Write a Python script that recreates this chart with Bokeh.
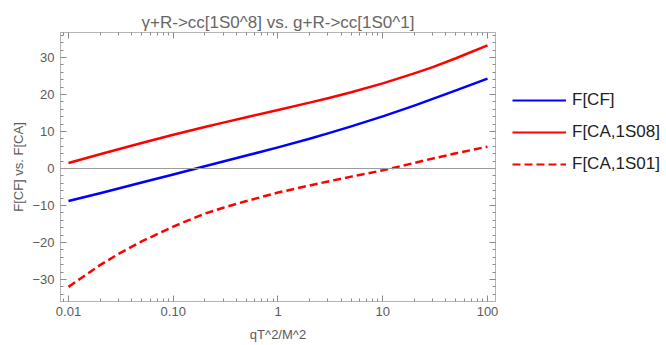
from bokeh.plotting import figure
from bokeh.layouts import row
from bokeh.models import (FixedTicker, LogAxis, LinearAxis, Span, Legend,
                          LegendItem, ColumnDataSource, Range1d)
from bokeh.embed import file_html
from bokeh.resources import INLINE

# ---- data ----
qT2 = [0.01, 0.02, 0.03, 0.05, 0.1, 0.2, 0.3, 0.5, 1, 2, 3, 5, 10, 20, 30, 50, 100]
f_cf = [-8.8, -6.7, -5.4, -3.8, -1.6, 0.6, 1.9, 3.5, 5.7, 8.05, 9.5, 11.4, 14.1, 17.0, 18.8, 21.1, 24.3]
f_ca8 = [1.5, 3.85, 5.2, 6.9, 9.1, 11.2, 12.4, 13.85, 15.8, 17.8, 19.0, 20.6, 23.0, 25.7, 27.4, 29.8, 33.3]
f_ca1 = [-32.0, -26.1, -23.1, -19.7, -15.7, -12.2, -10.6, -8.8, -6.5, -4.6, -3.5, -2.2, -0.5, 1.5, 2.7, 4.1, 5.9]

series_names = ["F[CF]", "F[CA,1S08]", "F[CA,1S01]"]
x_ticks = [0.01, 0.1, 1, 10, 100]
x_tick_labels = ["0.01", "0.10", "1", "10", "100"]
y_ticks = [-30, -20, -10, 0, 10, 20, 30]
y_tick_labels = ["\u221230", "\u221220", "\u221210", "0", "10", "20", "30"]

title_text = "\u03b3+R->cc[1S0^8] vs. g+R->cc[1S0^1]"
x_label = "qT^2/M^2"
y_label = "F[CF] vs. F[CA]"

FONT = "Liberation Sans"
FRAME = "#b4b4b4"
TICK = "#8a8a8a"
TXT = "#5a5a5a"

src = ColumnDataSource(dict(x=qT2, cf=f_cf, ca8=f_ca8, ca1=f_ca1))

p = figure(width=505, height=345, x_axis_type="log",
           x_range=Range1d(0.00839, 119.2), y_range=Range1d(-35.95, 36.76),
           output_backend="svg", toolbar_location=None,
           min_border_left=60, min_border_right=10,
           min_border_top=32, min_border_bottom=44,
           title=title_text)
p.title.align = "center"
p.title.text_font = FONT
p.title.text_font_size = "17px"
p.title.text_font_style = "normal"
p.title.text_color = "#666666"
p.title.standoff = 2
p.xgrid.visible = False
p.ygrid.visible = False
p.outline_line_color = FRAME
p.background_fill_color = "white"
p.border_fill_color = "white"

minor_x = [m * 10.0 ** e for e in range(-3, 3) for m in range(2, 10)]
xt = FixedTicker(ticks=x_ticks, minor_ticks=minor_x)
yt = FixedTicker(ticks=y_ticks, minor_ticks=list(range(-36, 38, 2)))


def style_axis(ax, labels=True):
    ax.axis_line_color = FRAME
    ax.major_tick_line_color = TICK
    ax.minor_tick_line_color = TICK
    ax.major_tick_in = 6
    ax.major_tick_out = 0
    ax.minor_tick_in = 3
    ax.minor_tick_out = 0
    if labels:
        ax.major_label_text_font = FONT
        ax.major_label_text_font_size = "13px"
        ax.major_label_text_color = TXT
        ax.axis_label_text_font = FONT
        ax.axis_label_text_font_size = "13px"
        ax.axis_label_text_font_style = "normal"
        ax.axis_label_text_color = TXT
    else:
        ax.major_label_text_font_size = "1px"
        ax.major_label_text_alpha = 0
        ax.major_label_standoff = 0


xa = p.xaxis[0]
xa.ticker = xt
xa.major_label_overrides = {t: l for t, l in zip(x_ticks, x_tick_labels)}
xa.axis_label = x_label
xa.major_label_standoff = 5
xa.axis_label_standoff = 8
style_axis(xa)

ya = p.yaxis[0]
ya.ticker = yt
ya.major_label_overrides = {t: l for t, l in zip(y_ticks, y_tick_labels)}
ya.axis_label = y_label
ya.major_label_standoff = 6
ya.axis_label_standoff = 3
style_axis(ya)

top = LogAxis(ticker=xt)
style_axis(top, labels=False)
p.add_layout(top, "above")
right = LinearAxis(ticker=yt)
style_axis(right, labels=False)
p.add_layout(right, "right")

p.add_layout(Span(location=0, dimension="width", line_color="#9a9a9a", line_width=1))

LINE_STYLES = [dict(line_color="#0000ff"), dict(line_color="#ff0000"),
               dict(line_color="#ff0000", line_dash="8 4")]
cols = ["cf", "ca8", "ca1"]
for c, st in zip(cols, LINE_STYLES):
    p.line("x", c, source=src, line_width=2.5, line_join="round", **st)

# legend lives in a narrow companion figure to the right of the plot
lf = figure(width=161, height=345, x_range=Range1d(-3, -2), y_range=Range1d(-3, -2),
            output_backend="svg", toolbar_location=None,
            x_axis_location=None, y_axis_location=None,
            min_border_left=0, min_border_right=0, min_border_top=0, min_border_bottom=0)
lf.outline_line_color = None
lf.xgrid.visible = False
lf.ygrid.visible = False
lf.background_fill_color = "white"
lf.border_fill_color = "white"
items = []
for name, c, st in zip(series_names, cols, LINE_STYLES):
    rr = lf.line("x", c, source=src, line_width=2.2, **st)
    items.append(LegendItem(label=name, renderers=[rr]))

legend = Legend(items=items, location=(7, 121), padding=0, margin=0, spacing=0,
                glyph_width=54, glyph_height=32, label_height=32,
                label_standoff=6, border_line_color=None,
                background_fill_alpha=0,
                label_text_font=FONT, label_text_font_size="17px",
                label_text_color="#222222")
lf.add_layout(legend)

layout = row(p, lf, spacing=0)
open("out.html", "w").write(file_html(layout, INLINE))
